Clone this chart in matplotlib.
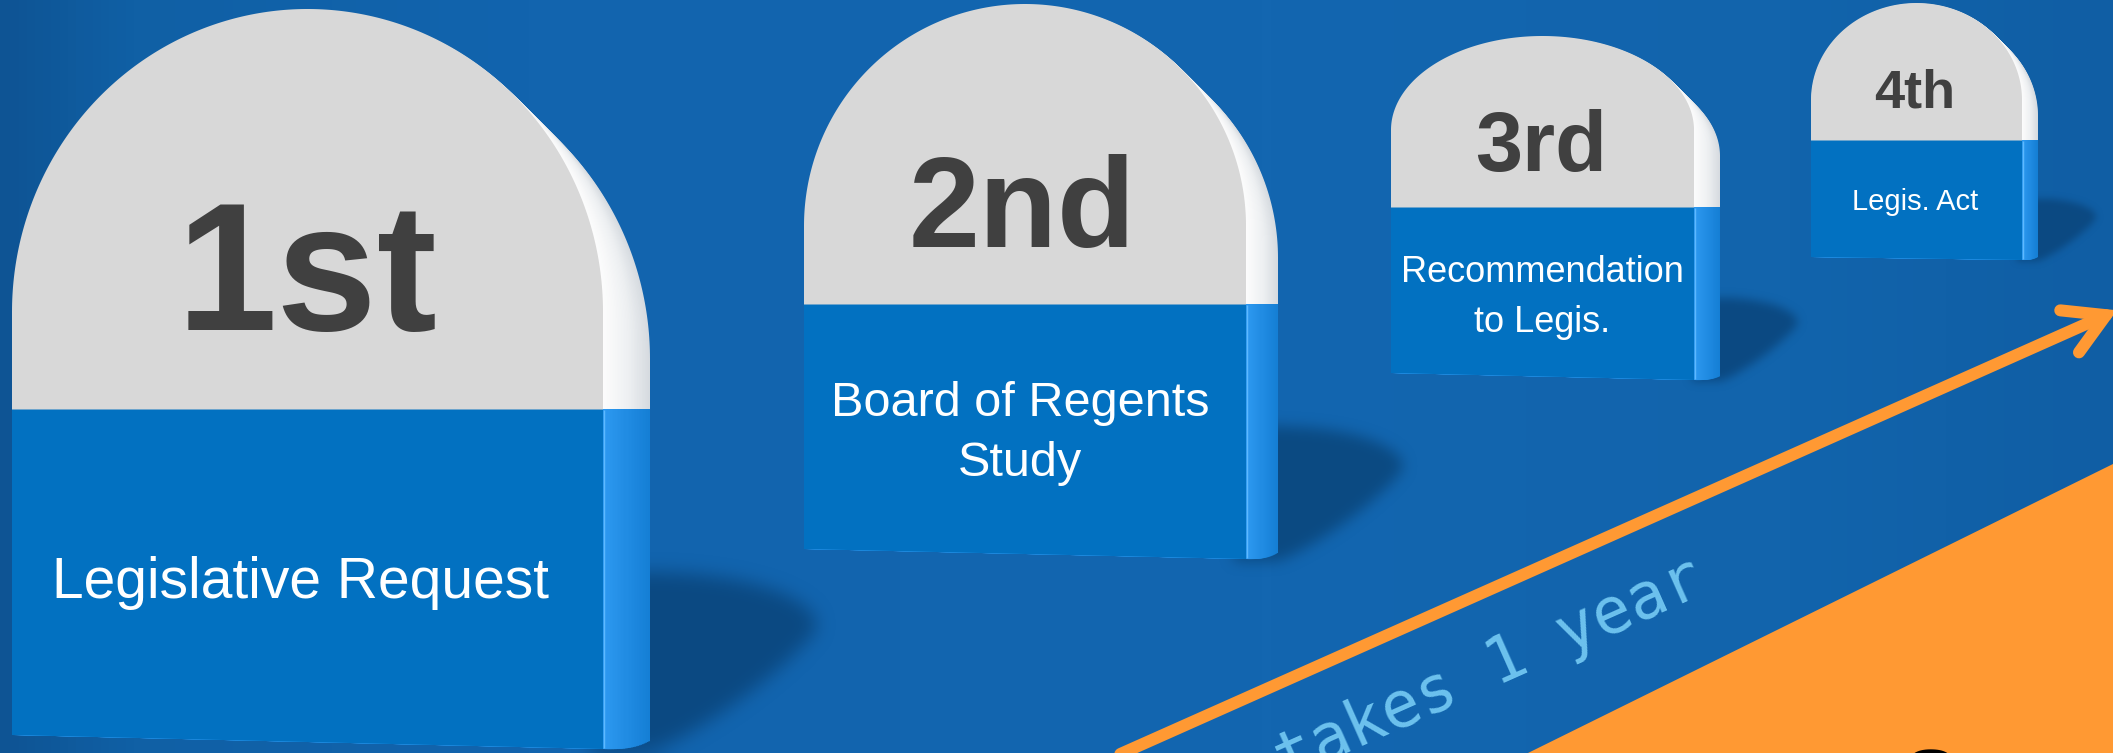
import numpy as np
import matplotlib
matplotlib.use("Agg")
import matplotlib.pyplot as plt
from matplotlib.path import Path
from matplotlib.patches import Polygon
from matplotlib.colors import to_rgb, LinearSegmentedColormap

# ---------------- data ----------------
ordinals = ["1st", "2nd", "3rd", "4th"]
steps = ["Legislative Request", "Board of Regents\nStudy", "Recommendation\nto Legis.", "Legis. Act"]
duration_label = "takes 1 year"
start_label = "Start"

# ---------------- layout (pixels, y down) ----------------
W, H = 2113, 753
DPI = 100
L = [12, 804, 1391, 1811]        # front left edge
R = [603, 1246, 1694, 2022]      # front right edge
S = [650, 1278, 1720, 2038]      # side (depth) right edge
T = [9, 4, 36, 3]                # top of dome
D = [312, 226, 130, 100]         # dome base
B = [409, 304, 207, 140]         # gray / blue boundary
YL = [735, 549, 373, 257]        # bottom at left
YR = [749, 559, 380, 260]        # bottom at right

num_size = [130, 92, 61, 39]
num_base = [330, 247, 171, 107]
num_x = [307, 1022, 1541, 1915]
lab_size = [41, 35, 26, 21]
lab_base = [598, 416, 282, 210]
lab_gap = [0, 60, 50, 0]
lab_x = [300, 1020, 1542, 1915]

# colours
BG_STOPS = [(0.0, "#0E5494"), (0.06, "#1060A5"), (0.25, "#1264AE"),
            (0.6, "#1366B0"), (0.85, "#1264AC"), (1.0, "#105EA4")]
GRAY = "#D8D8D8"
BLUE = "#0271C1"
SIDE_GRAY = [(0.0, "#FDFDFD"), (0.55, "#EEF0F2"), (1.0, "#D6DBE0")]
SIDE_BLUE = [(0.0, "#2E9AF2"), (1.0, "#157FD5")]
NUM_COL = "#404040"
ORANGE = "#FF9933"
SHADOW = "#0B4980"
TXT_BLUE = "#6DC2EE"

fig = plt.figure(figsize=(W / DPI, H / DPI), dpi=DPI)
ax = fig.add_axes([0, 0, 1, 1])
ax.set_xlim(0, W)
ax.set_ylim(H, 0)
ax.axis("off")

# background gradient
cmap = LinearSegmentedColormap.from_list("bg", BG_STOPS)
grad = np.tile(np.linspace(0, 1, 512), (2, 1))
ax.imshow(grad, cmap=cmap, extent=(0, W, H, 0), aspect="auto",
          interpolation="bicubic", zorder=0)

side_gray_cmap = LinearSegmentedColormap.from_list("sg", SIDE_GRAY)
side_blue_cmap = LinearSegmentedColormap.from_list("sb", SIDE_BLUE)


def upper_poly(l, r, t, d, b, n=220):
    cx, rx, ry = (l + r) / 2, (r - l) / 2, d - t
    a = np.linspace(np.pi, 0, n)
    pts = np.column_stack([cx + rx * np.cos(a), d - ry * np.sin(a)])
    return np.vstack([[l, b + 0.5], pts, [r, b + 0.5]])


def lower_poly(l, r, b, yl, yr):
    return np.array([[l, b], [r, b], [r, yr], [l, yl]])


def box_blur(a, r):
    r = max(1, int(round(r)))
    k = 2 * r + 1
    c = np.cumsum(np.pad(a, ((r + 1, r), (0, 0)), mode="edge"), axis=0)
    a = (c[k:] - c[:-k]) / k
    c = np.cumsum(np.pad(a, ((0, 0), (r + 1, r)), mode="edge"), axis=1)
    return (c[:, k:] - c[:, :-k]) / k


def shadow_poly(s, yr, h):
    cy = yr - 0.165 * h
    rx, ryu, ryl = 0.226 * h, 0.074 * h, 0.168 * h
    a = np.linspace(0, 1, 80)
    xu = s + rx * a
    yu = cy - ryu * np.sqrt(np.clip(1 - a ** 2, 0, 1))
    ar = a[::-1]
    xl = s + rx * ar
    yl = cy + ryl * np.clip(1 - ar ** 1.2, 0, 1) ** (1 / 1.2)
    back = 0.08 * h
    return np.vstack([[s - back, cy - ryu], np.column_stack([xu, yu]),
                      np.column_stack([xl, yl]), [s - back, cy + ryl]])


# shadows
sh_rgb = np.array(to_rgb(SHADOW))
for i in range(4):
    h = YR[i] - T[i]
    pts = shadow_poly(S[i], YR[i], h)
    rb = 0.011 * h
    x0 = int(max(0, pts[:, 0].min() - 6 * rb)); x1 = int(min(W, pts[:, 0].max() + 6 * rb))
    y0 = int(max(0, pts[:, 1].min() - 6 * rb)); y1 = int(min(H, pts[:, 1].max() + 6 * rb))
    xs = np.arange(x0, x1) + 0.5
    ys = np.arange(y0, y1) + 0.5
    XX, YY = np.meshgrid(xs, ys)
    m = Path(pts).contains_points(np.column_stack([XX.ravel(), YY.ravel()]))
    m = m.reshape(XX.shape).astype(float)
    for _ in range(3):
        m = box_blur(m, rb)
    img = np.zeros(m.shape + (4,))
    img[..., :3] = sh_rgb
    img[..., 3] = np.clip(m, 0, 1) * 0.95
    ax.imshow(img, extent=(x0, x1, y1, y0), aspect="auto",
              interpolation="bilinear", zorder=1)

# orange floor triangle
ax.add_patch(Polygon([[1528, 753], [W, 464], [W, H]], closed=True,
                     fc=ORANGE, ec="none", zorder=2))

# milestones
N = 30
for i in range(4):
    w = S[i] - R[i]
    slope = (YR[i] - YL[i]) / (R[i] - L[i])
    h = YR[i] - T[i]
    # gray side: copies of the dome shifted right and down (depth)
    for k in range(N, 0, -1):
        f = k / N
        dx, dy = w * f, w * f
        poly = upper_poly(L[i] + dx, R[i] + dx, T[i] + dy, D[i] + dy, B[i] + dy)
        ax.add_patch(Polygon(poly, closed=True, fc=side_gray_cmap(f),
                             ec="none", zorder=3))
    # blue side
    for k in range(N, 0, -1):
        f = k / N
        dx = w * f
        rr = 0.012 * h * f ** 3
        poly = lower_poly(L[i] + dx, R[i] + dx, B[i],
                          YL[i] + slope * dx - rr, YR[i] + slope * dx - rr)
        ax.add_patch(Polygon(poly, closed=True, fc=side_blue_cmap(f),
                             ec="none", zorder=3))
    # front faces
    ax.add_patch(Polygon(lower_poly(L[i], R[i], B[i], YL[i], YR[i]), closed=True,
                         fc=BLUE, ec="none", zorder=4))
    ax.add_patch(Polygon(upper_poly(L[i], R[i], T[i], D[i], B[i]), closed=True,
                         fc=GRAY, ec="none", zorder=4))
    ax.plot([R[i] + 1.2, R[i] + 1.2], [B[i] + 1, YR[i] - 1], color="#5DB9FF",
            lw=1.0, solid_capstyle="butt", zorder=4.5)

    # texts
    ax.text(num_x[i], num_base[i], ordinals[i], ha="center", va="baseline",
            fontsize=num_size[i], fontweight="bold", color=NUM_COL,
            family="Liberation Sans", zorder=6)
    for j, line in enumerate(steps[i].split("\n")):
        ax.text(lab_x[i], lab_base[i] + j * lab_gap[i], line, ha="center",
                va="baseline", fontsize=lab_size[i], color="white",
                family="Liberation Sans", zorder=6)

# arrow
ang = np.deg2rad(24.0)
u = np.array([np.cos(ang), -np.sin(ang)])
p0 = np.array([1601.0, 540.0])
tip = p0 + u * (2106 - p0[0]) / u[0]
start = p0 + u * (1090 - p0[0]) / u[0]
lw = 12 * 72 / DPI
ax.plot([start[0], tip[0]], [start[1], tip[1]], color=ORANGE, lw=lw,
        solid_capstyle="round", zorder=5)
rev = -u
arms = []
for th in (np.deg2rad(30), np.deg2rad(-30)):
    v = np.array([rev[0] * np.cos(th) - rev[1] * np.sin(th),
                  rev[0] * np.sin(th) + rev[1] * np.cos(th)])
    arms.append(tip + 46 * v)
ax.plot([arms[0][0], tip[0], arms[1][0]], [arms[0][1], tip[1], arms[1][1]],
        color=ORANGE, lw=lw, solid_capstyle="round", solid_joinstyle="miter", zorder=5)

# duration text along the arrow
fs = 46
adv = 0.602 * fs * DPI / 72
one_c = np.array([1514.0, 678.0])
tstart = one_c - u * 6.5 * adv
ax.text(tstart[0], tstart[1], duration_label, rotation=24, rotation_mode="anchor",
        ha="left", va="baseline", fontsize=fs, color=TXT_BLUE,
        family="DejaVu Sans Mono", zorder=6)

# start label (mostly below the frame)
ax.text(1900, 810, start_label, ha="left", va="baseline", fontsize=63,
        color="black", family="Liberation Sans", zorder=6)

fig.savefig("out.png", dpi=DPI)
